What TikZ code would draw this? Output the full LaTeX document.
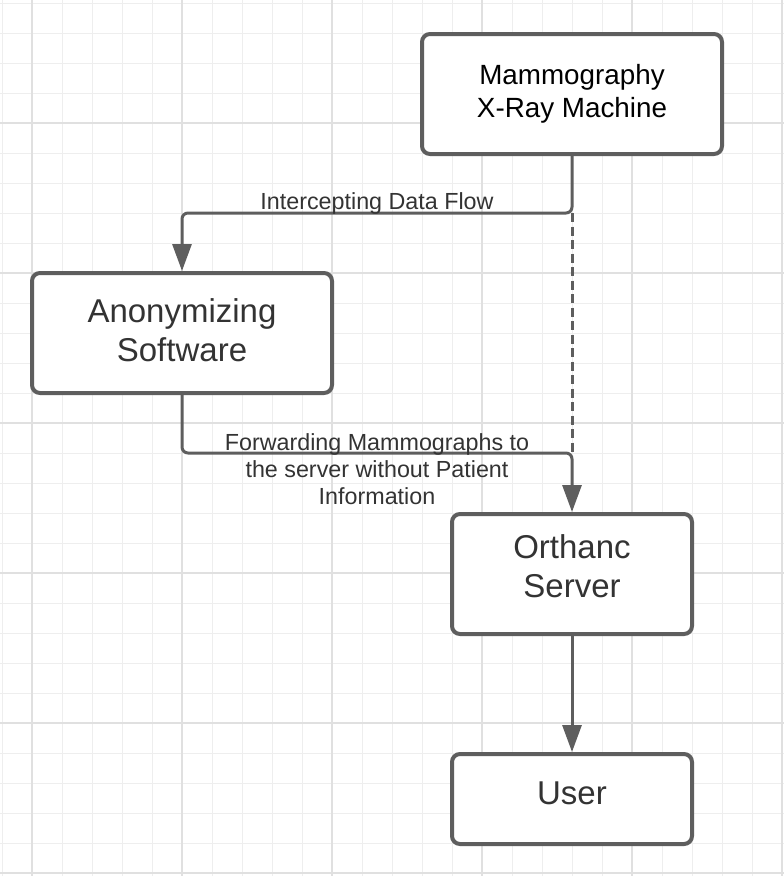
\documentclass[tikz,border=0pt]{standalone}
\usepackage{fontspec}
\setmainfont{Liberation Sans}
\usetikzlibrary{arrows.meta}
\definecolor{gridminor}{HTML}{EEEEEE}
\definecolor{gridmajor}{HTML}{E0E0E0}
\definecolor{strokegray}{HTML}{5E5E5E}
\definecolor{txtgray}{HTML}{333333}
\begin{document}
\begin{tikzpicture}[x=1pt,y=-1pt,
  box/.style={draw=strokegray, line width=4pt, rounded corners=8pt, fill=white,
    align=center, text=txtgray, inner sep=0pt,
    font=\fontsize{33}{39}\selectfont},
  conn/.style={draw=strokegray, line width=3pt, rounded corners=6pt},
  tipped/.style={-{Triangle[length=27pt,width=19pt]}},
  dashline/.style={dash pattern=on 9pt off 4.5pt},
  lbl/.style={text=txtgray, inner sep=0pt, align=center,
    font=\fontsize{23.3}{27}\selectfont}
]
\useasboundingbox (0,0) rectangle (784,876);
\fill[white] (0,0) rectangle (784,876);
% grid
\foreach \i in {0,...,26} \draw[gridminor, line width=1pt] (2+30*\i,0) -- (2+30*\i,876);
\foreach \j in {0,...,29} \draw[gridminor, line width=1pt] (0,3+30*\j) -- (784,3+30*\j);
\foreach \i in {0,...,5} \draw[gridmajor, line width=1.3pt] (32+150*\i,0) -- (32+150*\i,876);
\foreach \j in {0,...,5} \draw[gridmajor, line width=1.3pt] (0,123+150*\j) -- (784,123+150*\j);

% boxes
\node[box, minimum width=300pt, minimum height=120pt, text=black,
  font=\fontsize{27.8}{33}\selectfont] (mam) at (572,94) {Mammography\\X-Ray Machine};
\node[box, minimum width=300pt, minimum height=120pt, text depth=6pt] (anon) at (182,333) {Anonymizing\\Software};
\node[box, minimum width=240pt, minimum height=120pt, text depth=16pt] (orth) at (572,574) {Orthanc\\Server};
\node[box, minimum width=240pt, minimum height=90pt, text depth=11pt] (user) at (572,799) {User};

% junctions
\coordinate (j1) at (572,213);
\coordinate (j2) at (572,453);

% connectors
\draw[conn, dashline] (j1) -- (j2);
\draw[conn, tipped] (mam.south) -- (j1) -| (anon.north);
\draw[conn, tipped] (anon.south) |- (j2) -- (orth.north);
\draw[conn, tipped] (orth.south) -- (user.north);

% labels
\node[lbl, anchor=base] (lab1) at (377,209) {Intercepting Data Flow};
\node[lbl, anchor=north] (lab2) at (377,433.2) {Forwarding Mammographs to\\the server without Patient\\Information};
\end{tikzpicture}
\end{document}
